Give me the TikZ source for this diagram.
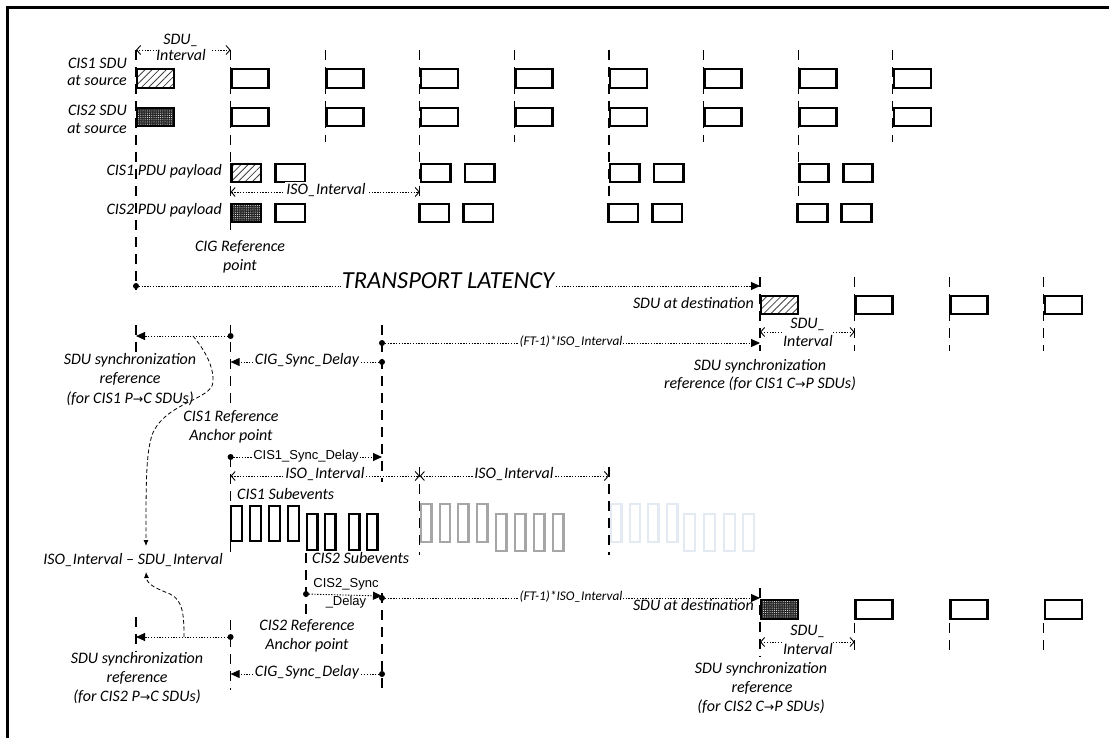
\documentclass[tikz,border=0pt]{standalone}
\usepackage{fontspec}
\setmainfont{Carlito}
\newfontfamily\arialf{Liberation Sans}
\newfontfamily\symf{DejaVu Sans}
\usetikzlibrary{arrows.meta,patterns.meta}
\definecolor{subgrey}{RGB}{166,166,166}
\definecolor{subpale}{RGB}{228,234,242}
\newcommand{\rarr}{{\symf\upshape\fontsize{12.5}{12.5}\selectfont →}}
\newcommand{\hbx}[4]{%
  \path[pattern={Lines[angle=45,distance=5pt,line width=0.8pt]},pattern color=black!75] (#1,#2) rectangle (#3,#4);
  \draw[box] (#1,#2) rectangle (#3,#4);}
\newcommand{\dbx}[4]{%
  \fill[black!85] (#1,#2) rectangle (#3,#4);
  \path[pattern={Dots[distance=2.2pt,radius=0.5pt]},pattern color=white] (#1,#2) rectangle (#3,#4);
  \draw[box] (#1,#2) rectangle (#3,#4);}
\begin{document}
\begin{tikzpicture}[x=1pt,y=-1pt,
  lbl/.style={font=\itshape\fontsize{16}{19}\selectfont, inner sep=0pt, anchor=mid},
  lblr/.style={lbl, anchor=mid east},
  lbll/.style={lbl, anchor=mid west},
  onl/.style={lbl, fill=white, inner sep=1.5pt},
  ft/.style={font=\itshape\fontsize{13.3}{15}\selectfont, fill=white, inner sep=1pt, anchor=mid},
  sans/.style={font=\arialf\fontsize{13}{15}\selectfont, inner sep=1pt, anchor=mid},
  vd/.style={line width=1.2pt, dash pattern=on 10pt off 7pt},
  dl/.style={line width=0.9pt, dash pattern=on 1.3pt off 1.5pt},
  ohd/.style={-{Straight Barb[length=4pt,width=9pt,line width=0.9pt]}},
  ohb/.style={{Straight Barb[length=4pt,width=9pt,line width=0.9pt]}-{Straight Barb[length=4pt,width=9pt,line width=0.9pt]}},
  fhd/.style={-{Triangle[length=9pt,width=8pt]}},
  box/.style={draw, line width=2.6pt},
  sub/.style={draw, line width=2.3pt},
  crv/.style={line width=0.8pt, dash pattern=on 4pt off 2.5pt},
]
\useasboundingbox (0,0) rectangle (1109,738);
% frame
\draw[line width=2.2pt] (7.5,738) -- (7.5,7.5) -- (1109,7.5);

% ---------- top: SDUs at source ----------
\draw[vd] (136,50) -- (136,290);
\draw[vd] (230.6,50) -- (230.6,236);
\foreach \k/\yb in {2/142,3/203,4/142,5/203,6/142,7/203,8/142}
  {\draw[vd] ({136+94.6*\k},50) -- ({136+94.6*\k},\yb);}
\hbx{137}{69}{174}{88}
\dbx{137}{108}{174}{126}
\foreach \k in {1,...,8}{
  \draw[box] ({137+94.6*\k},69) rectangle ++(37,19);
  \draw[box] ({137+94.6*\k},108) rectangle ++(37,18);}
\node[lblr] (s1a) at (127,66) {CIS1 SDU};
\node[lblr] (s1b) at (127,83) {at source};
\node[lblr] (s2a) at (127,113) {CIS2 SDU};
\node[lblr] (s2b) at (127,131) {at source};
\draw[dl,ohd] (157,50) -- (136,50);
\draw[dl,ohd] (212,50) -- (230.6,50);
\node[lbl] (si1) at (181,42) {SDU\_};
\node[lbl] (si2) at (181,58) {Interval};

% ---------- PDU payloads ----------
\hbx{231.6}{164}{261}{182}
\dbx{231.6}{204}{261}{222}
\draw[box] (275.6,164) rectangle ++(29.5,18);
\draw[box] (275.6,204) rectangle ++(29.5,18);
\foreach \g in {419.8,609,798.2}{
  \draw[box] ({\g+1},164) rectangle ++(29.5,18);
  \draw[box] ({\g+45},164) rectangle ++(29.5,18);
  \draw[box] ({\g-0.5},204) rectangle ++(29.5,18);
  \draw[box] ({\g+43.5},204) rectangle ++(29.5,18);}
\node[lblr] (p1) at (222,173) {CIS1 PDU payload};
\node[lblr] (p2) at (222,212) {CIS2 PDU payload};
\draw[dl,ohb] (230.6,192) -- (419.8,192);
\node[onl] (iso0) at (326,192) {ISO\_Interval};
\node[lbl] (cig1) at (240,249) {CIG Reference};
\node[lbl] (cig2) at (240,268) {point};

% ---------- transport latency ----------
\fill (136,286) circle (3pt);
\draw[dl,fhd] (136,286) -- (760,286);
\node[lbl, font=\itshape\fontsize{24.5}{28}\selectfont, fill=white, inner sep=1pt] (tl) at (448,286) {TRANSPORT LATENCY};

% ---------- SDUs at destination (CIS1) ----------
\foreach \k in {0,...,3}{\draw[vd] ({760+94.6*\k},277) -- ({760+94.6*\k},351);}
\hbx{761}{296}{798}{314}
\foreach \k in {1,2,3}{\draw[box] ({761+94.6*\k},296) rectangle ++(37,18);}
\node[lblr] (d1) at (754,306) {SDU at destination};
\draw[dl,ohd] (782,332) -- (760,332);
\draw[dl,ohd] (833,332) -- (854.6,332);
\node[lbl] (di1) at (808,326) {SDU\_};
\node[lbl] (di2) at (808,344) {Interval};
\node[lbl] (r1a) at (760,368) {SDU synchronization};
\node[lbl] (r1b) at (760,386) {reference (for CIS1 C\rarr P SDUs)};

% ---------- sync references (CIS1) ----------
\draw[vd] (136,325) -- (136,352);
\draw[vd] (230.6,325) -- (230.6,410);
\draw[vd] (382,325) -- (382,482);
\fill (230.6,336) circle (3pt);
\draw[dl,fhd] (230.6,336) -- (136,336);
\fill (382,343) circle (3pt);
\draw[dl,fhd] (382,343) -- (760,343);
\node[ft] (ft1) at (571,343) {(FT-1)*ISO\_Interval};
\fill (382,362) circle (3pt);
\draw[dl,fhd] (382,362) -- (230.6,362);
\node[onl] (cs1) at (307,362) {CIG\_Sync\_Delay};
\node[lbl] (l1a) at (130,362) {SDU synchronization};
\node[lbl] (l1b) at (130,381) {reference};
\node[lbl] (l1c) at (130,401) {(for CIS1 P\rarr C SDUs)};

% dashed curves
\draw[crv,-{Latex[length=6pt,width=5pt]}] (193,336) .. controls (203,348) and (214,365) .. (213,382)
  .. controls (212,400) and (165,402) .. (152,435)
  .. controls (146,455) and (146,480) .. (146,546);
\draw[crv,-{Latex[length=6pt,width=5pt]}] (184,637) .. controls (184,615) and (183,600) .. (170,594)
  .. controls (158,589) and (147,585) .. (146,572);
\node[lbl] (dif) at (133,562) {ISO\_Interval – SDU\_Interval};

% ---------- CIS1 anchor / subevents ----------
\node[lbl] (a1a) at (231,419) {CIS1 Reference};
\node[lbl] (a1b) at (231,438) {Anchor point};
\fill (230.6,457) circle (3pt);
\draw[dl,fhd] (230.6,457) -- (382,457);
\node[sans, fill=white] (c1s) at (306,457) {CIS1\_Sync\_Delay};
\draw[vd] (230.6,457) -- (230.6,557);
\draw[vd] (419.8,467) -- (419.8,555);
\draw[vd] (609,467) -- (609,555);
\draw[dl,ohb] (230.6,476) -- (419.8,476);
\draw[dl,ohb] (419.8,476) -- (609,476);
\node[onl] (iso1) at (325,476) {ISO\_Interval};
\node[onl] (iso2) at (514,476) {ISO\_Interval};
\node[lbll] (c1sub) at (237,497) {CIS1 Subevents};
\foreach \x in {230,249,268,287}{\draw[sub] ({\x+1.15},506.15) rectangle ++(10.7,34.7);}
\foreach \x in {306,324,348,366}{\draw[sub] ({\x+1.15},514.15) rectangle ++(10.2,35.7);}
\foreach \x in {420,438.5,457,476}{\draw[sub,subgrey] ({\x+1.15},504.15) rectangle ++(10.2,37.7);}
\foreach \x in {495,514,533,552}{\draw[sub,subgrey] ({\x+1.15},514.15) rectangle ++(10.2,36.7);}
\foreach \x in {610,628.5,647,666}{\draw[sub,subpale] ({\x+1.15},504.15) rectangle ++(10.2,37.7);}
\foreach \x in {683,703,723,742}{\draw[sub,subpale] ({\x+1.15},514.15) rectangle ++(10.7,36.7);}
\node[lbll] (c2sub) at (312,561) {CIS2 Subevents};

% ---------- CIS2 sync ----------
\draw[vd] (306,553) -- (306,617);
\fill (306,594) circle (3pt);
\draw[dl,fhd] (306,594) -- (382,596);
\node[sans] (c2s1) at (346,585) {CIS2\_Sync};
\node[sans] (c2s2) at (346,603) {\_Delay};
\draw[vd] (382,593) -- (382,692);
\fill (382,598) circle (3pt);
\draw[dl,fhd] (382,598) -- (760,598);
\node[ft] (ft2) at (571,598) {(FT-1)*ISO\_Interval};

% ---------- SDUs at destination (CIS2) ----------
\draw[vd] (760,588) -- (760,657);
\foreach \k in {1,2,3}{\draw[vd] ({760+94.6*\k},623) -- ({760+94.6*\k},651);}
\dbx{761}{600}{798}{619}
\foreach \k in {1,2,3}{\draw[box] ({761+94.6*\k},600) rectangle ++(37,19);}
\node[lblr] (d2) at (754,608) {SDU at destination};
\draw[dl,ohd] (782,642) -- (760,642);
\draw[dl,ohd] (833,642) -- (854.6,642);
\node[lbl] (dj1) at (808,633) {SDU\_};
\node[lbl] (dj2) at (808,652) {Interval};
\node[lbl] (r2a) at (761,671) {SDU synchronization};
\node[lbl] (r2b) at (762,690) {reference};
\node[lbl] (r2c) at (761,709) {(for CIS2 C\rarr P SDUs)};

% ---------- bottom-left sync references (CIS2) ----------
\draw[vd] (136,617) -- (136,652);
\draw[vd] (230.6,620) -- (230.6,690);
\fill (230.6,637) circle (3pt);
\draw[dl,fhd] (230.6,637) -- (136,637);
\node[lbl] (a2a) at (307,628) {CIS2 Reference};
\node[lbl] (a2b) at (307,647) {Anchor point};
\fill (382,674) circle (3pt);
\draw[dl,fhd] (382,674) -- (230.6,674);
\node[onl] (cs2) at (307,674) {CIG\_Sync\_Delay};
\node[lbl] (l2a) at (137,661) {SDU synchronization};
\node[lbl] (l2b) at (137,680) {reference};
\node[lbl] (l2c) at (137,699) {(for CIS2 P\rarr C SDUs)};
\end{tikzpicture}
\end{document}
